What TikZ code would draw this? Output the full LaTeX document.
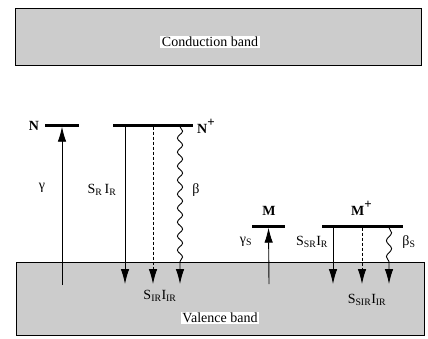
\documentclass[tikz,border=0pt]{standalone}
\usepackage{fontspec}
\setmainfont{Liberation Serif}
\usetikzlibrary{arrows.meta,decorations.pathmorphing}

\newcommand{\ionplus}{\raisebox{7pt}{\fontsize{13}{14}\selectfont\bfseries +}}

\begin{document}
\begin{tikzpicture}[x=1pt, y=-1pt, font=\fontsize{14}{16}\selectfont,
  band/.style={draw, fill=gray!40, line width=0.8pt},
  bandlabel/.style={fill=white, inner sep=1.5pt},
  level/.style={fill=black, inner sep=0pt, minimum height=3pt},
  trans/.style={line width=0.9pt, -{Latex[length=15pt,width=8.5pt]}},
  wave/.style={trans, decorate, decoration={snake, amplitude=2.6pt, segment length=14pt, post length=16pt}},
  lbl/.style={inner sep=1pt},
  lvlname/.style={inner sep=1pt, font=\fontsize{14}{16}\selectfont\bfseries}]
  \useasboundingbox (0,0) rectangle (428,338);
  \draw[band] (15,8) rectangle (421,65);
  \draw[band] (16,262) rectangle (424,335);
  \node[bandlabel] (cb) at (210,42) {Conduction band};
  \node[bandlabel] (vb) at (220,318) {Valence band};

  \node[level, minimum width=34pt] (N) at (62,125) {};
  \node[level, minimum width=80pt] (Np) at (153,125) {};
  \node[level, minimum width=33pt] (M) at (268.5,226) {};
  \node[level, minimum width=81pt] (Mp) at (362.5,226) {};
  \node[lvlname] (Nl) at (34,126) {N};
  \node[lvlname, anchor=west] (Npl) at (196,126) {N\ionplus};
  \node[lvlname] (Ml) at (269,211) {M};
  \node[lvlname, anchor=west] (Mpl) at (350,208) {M\ionplus};

  \coordinate (g) at (62,285);
  \coordinate (r1) at (125,284);
  \coordinate (r2) at (153,284);
  \coordinate (r3) at (180,284);
  \coordinate (gs) at (269,284);
  \coordinate (s1) at (333,284);
  \coordinate (s2) at (362,284);
  \coordinate (s3) at (389,284);

  \draw[trans] (g) -- (N);
  \draw[trans] (Np.south -| r1) -- (r1);
  \draw[trans, dash pattern=on 3pt off 2pt] (Np.south -| r2) -- (r2);
  \draw[wave] (Np.south -| r3) -- (r3);
  \draw[trans] (gs) -- (M);
  \draw[trans] (Mp.south -| s1) -- (s1);
  \draw[trans, dash pattern=on 3pt off 2pt] (Mp.south -| s2) -- (s2);
  \draw[wave, decoration={segment length=16pt, post length=16pt}] (Mp.south -| s3) -- (s3);

  \node[lbl] (lg) at (42,188) {γ};
  \node[lbl] (lsr) at (102,190) {S\textsubscript{R}\,I\textsubscript{R}};
  \node[lbl] (lb) at (196,190) {β};
  \node[lbl] (lsir) at (160,296) {S\textsubscript{IR}I\textsubscript{IR}};
  \node[lbl] (lgs) at (246,242) {γ\textsubscript{S}};
  \node[lbl] (lssr) at (312,242) {S\textsubscript{SR}I\textsubscript{R}};
  \node[lbl] (lbs) at (409,242) {β\textsubscript{S}};
  \node[lbl] (lssir) at (367,300) {S\textsubscript{SIR}I\textsubscript{IR}};
\end{tikzpicture}
\end{document}
